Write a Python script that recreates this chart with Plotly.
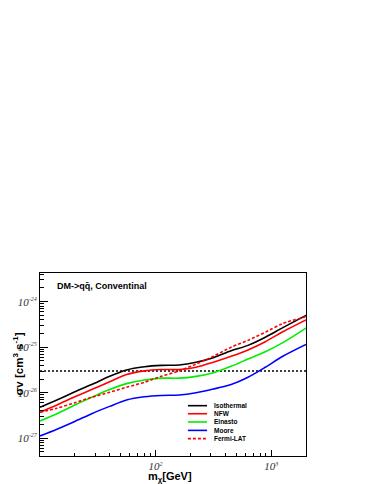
import plotly.graph_objects as go

# DM mass grid [GeV]
mass = [10, 14, 20, 28, 40, 56, 80, 112, 160, 224, 316, 450, 630, 890, 1260, 2000]

# log10 of <sigma v> [cm^3 s^-1]
isothermal = [-26.32, -26.16, -25.98, -25.82, -25.64, -25.50, -25.43, -25.40,
              -25.39, -25.33, -25.23, -25.08, -24.96, -24.78, -24.57, -24.30]
nfw = [-26.43, -26.27, -26.09, -25.93, -25.76, -25.60, -25.52, -25.49,
       -25.49, -25.44, -25.33, -25.20, -25.06, -24.88, -24.66, -24.40]
einasto = [-26.62, -26.46, -26.27, -26.10, -25.93, -25.80, -25.72, -25.68,
           -25.68, -25.64, -25.56, -25.42, -25.26, -25.10, -24.90, -24.58]
moore = [-26.95, -26.80, -26.63, -26.46, -26.30, -26.16, -26.09, -26.06,
         -26.05, -26.00, -25.92, -25.82, -25.66, -25.44, -25.20, -24.94]
fermi = [-26.43, -26.34, -26.22, -26.10, -25.99, -25.88, -25.77, -25.64,
         -25.52, -25.37, -25.20, -25.00, -24.85, -24.67, -24.48, -24.33]

relic_x = [10, 2000]
relic_y = [3e-26, 3e-26]

names = ['Isothermal', 'NFW', 'Einasto', 'Moore', 'Fermi-LAT']
series = [isothermal, nfw, einasto, moore, fermi]
colors = ['#000000', '#ff0000', '#00ee00', '#0000ff', '#ff0000']
dashes = ['solid', 'solid', 'solid', 'solid', '3px,2px']

x_ticks = [100, 1000]
x_exps = ['2', '3']
y_ticks = [1e-27, 1e-26, 1e-25, 1e-24]
y_exps = ['-27', '-26', '-25', '-24']


def pow_label(e):
    return '10<sup><span style="font-size:6px">' + e + '</span></sup>'


fig = go.Figure()
fig.add_trace(go.Scatter(x=relic_x, y=relic_y, mode='lines',
                         line=dict(color='black', width=1.3, dash='2px,2px'),
                         showlegend=False))
for name, vals, col, dsh in zip(names, series, colors, dashes):
    fig.add_trace(go.Scatter(x=mass, y=[10 ** v for v in vals], mode='lines',
                             name=name, line_shape='spline',
                             line=dict(color=col, width=1.6, dash=dsh,
                                       smoothing=0.8),
                             showlegend=False))

# hand-made legend (ROOT-style, compact)
leg_y = [0.275, 0.231, 0.186, 0.140, 0.095]
for name, col, dsh, yy in zip(names, colors, dashes, leg_y):
    fig.add_shape(type='line', xref='paper', yref='paper',
                  x0=0.556, x1=0.628, y0=yy, y1=yy,
                  line=dict(color=col, width=1.6, dash=dsh))
    fig.add_annotation(x=0.648, y=yy, xref='paper', yref='paper', text=name,
                       showarrow=False, xanchor='left', yanchor='middle',
                       font=dict(size=6.5, family='Liberation Sans', weight='bold'))

fig.add_annotation(x=0.056, y=0.929, xref='paper', yref='paper',
                   text='DM->qq\u0304, Conventinal', showarrow=False,
                   xanchor='left', yanchor='middle',
                   font=dict(size=9, family='Liberation Sans', weight='bold'))
fig.add_annotation(x=-0.083, y=0.505, xref='paper', yref='paper',
                   text='\u03c3v [cm<sup>3</sup> s<sup>-1</sup>]', showarrow=False,
                   textangle=-90, xanchor='center', yanchor='middle',
                   font=dict(size=11.5, family='Liberation Sans', weight='bold'))
fig.add_annotation(x=0.49, y=-0.117, xref='paper', yref='paper',
                   text='m<sub>\u03c7</sub>[GeV]', showarrow=False,
                   xanchor='center', yanchor='middle',
                   font=dict(size=11, family='Liberation Sans', weight='bold'))

tick_font = dict(size=11, family='Liberation Serif', style='italic', color='#333')

x_minor = [20, 30, 40, 50, 60, 70, 80, 90, 200, 300, 400, 500, 600, 700, 800, 900, 2000]
y_minor = [k * 10.0 ** e for e in range(-28, -23) for k in range(2, 10)]

fig.update_xaxes(type='log', range=[1.0, 3.301], automargin=False,
                 tickvals=x_ticks, ticktext=[pow_label(e) for e in x_exps],
                 ticks='inside', ticklen=6, tickcolor='black', tickfont=tick_font,
                 minor=dict(tickvals=x_minor, ticks='inside', ticklen=3,
                            tickcolor='black'),
                 showline=True, mirror=True, linecolor='black', linewidth=1,
                 showgrid=False, zeroline=False)
fig.update_yaxes(type='log', range=[-27.39, -23.37], automargin=False,
                 tickvals=y_ticks, ticktext=[pow_label(e) for e in y_exps],
                 ticks='inside', ticklen=8, tickcolor='black', tickfont=tick_font,
                 minor=dict(tickvals=y_minor, ticks='inside', ticklen=4,
                            tickcolor='black'),
                 showline=True, mirror=True, linecolor='black', linewidth=1,
                 showgrid=False, zeroline=False)

# page body has an 8px margin, so the figure is 8px smaller and shifted
fig.update_layout(width=366, height=476,
                  margin=dict(l=32, r=68, t=265, b=28),
                  paper_bgcolor='white', plot_bgcolor='white',
                  font=dict(family='Liberation Sans', color='black'))

fig.write_html("out.html")
